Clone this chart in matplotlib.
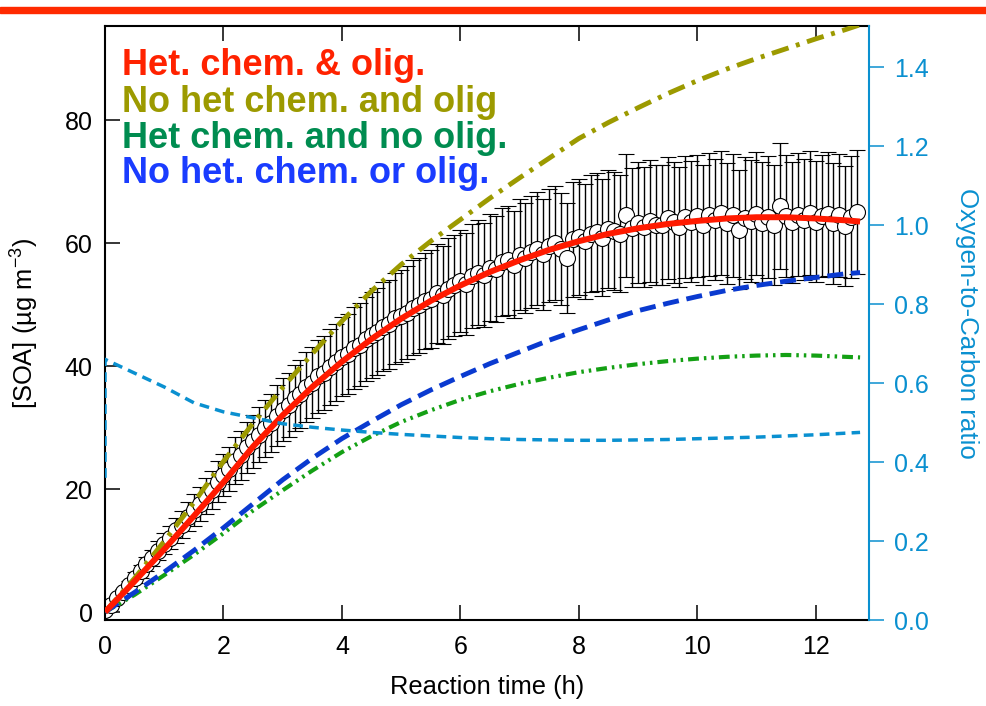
import numpy as np
import matplotlib
matplotlib.use("Agg")
import matplotlib.pyplot as plt
from matplotlib.patches import Rectangle

plt.rcParams['font.family'] = ['Liberation Sans', 'DejaVu Sans']
plt.rcParams['mathtext.fontset'] = 'custom'
plt.rcParams['mathtext.rm'] = 'Liberation Sans'

# observed SOA, one point every 0.1 h
obs_step = 0.1
obs_soa = [
    0.3, 1.2, 2.3, 3.3, 4.4, 5.6, 6.6, 7.8, 8.8, 10.0,
    11.1, 12.1, 13.3, 14.2, 15.5, 16.6, 17.6, 18.9, 19.9, 21.2,
    22.3, 23.3, 24.6, 25.5, 26.8, 27.8, 28.8, 29.9, 30.7, 31.9,
    32.9, 33.7, 34.8, 35.5, 36.6, 37.3, 38.3, 38.9, 39.9, 40.6,
    41.5, 42.0, 43.0, 43.5, 44.4, 45.0, 45.6, 46.4, 46.8, 47.8,
    48.2, 48.7, 49.5, 49.9, 50.6, 50.9, 51.8, 51.5, 52.6, 53.1,
    53.8, 53.4, 54.6, 55.2, 54.8, 56.0, 55.8, 56.9, 57.2, 56.5,
    58.1, 57.6, 58.6, 59.1, 58.2, 59.6, 60.0, 59.0, 57.6, 60.6,
    61.0, 60.3, 61.5, 61.8, 60.9, 62.3, 62.0, 61.5, 64.5, 62.5,
    63.3, 62.6, 63.6, 62.9, 63.0, 64.0, 63.4, 62.6, 64.2, 63.5,
    64.4, 63.0, 64.6, 63.8, 64.9, 63.2, 64.5, 62.2, 64.0, 63.6,
    64.8, 63.3, 64.2, 63.0, 66.0, 64.4, 63.4, 64.6, 63.8, 64.9,
    63.5, 64.4, 64.7, 63.2, 64.5, 62.8, 64.2, 65.0,
]
obs_rel_err = 0.155

# model runs
model_time = [0.0, 0.5, 1.0, 1.5, 2.0, 2.5, 3.0, 3.5, 4.0, 4.5, 5.0, 5.5, 6.0,
              6.5, 7.0, 7.5, 8.0, 8.5, 9.0, 9.5, 10.0, 10.5, 11.0, 11.5,
              12.0, 12.5, 12.75]
het_olig = [0.0, 5.0, 10.2, 15.6, 21.1, 26.9, 32.0, 36.6, 40.7, 44.4, 47.7,
            50.6, 53.1, 55.3, 57.2, 58.9, 60.3, 61.5, 62.4, 63.1, 63.6, 64.0,
            64.2, 64.2, 64.0, 63.7, 63.5]
nohet_olig = [0.0, 5.5, 11.5, 17.8, 24.5, 30.7, 36.5, 42.0, 47.3, 52.2, 56.5,
              60.3, 63.8, 67.3, 70.6, 73.8, 77.0, 79.6, 82.0, 84.3, 86.4,
              88.3, 90.0, 91.6, 93.2, 94.7, 95.5]
het_noolig = [0.0, 2.8, 6.0, 9.3, 12.8, 16.5, 19.8, 23.0, 26.0, 28.6, 30.9,
              32.8, 34.5, 35.9, 37.1, 38.1, 39.0, 39.7, 40.3, 40.8, 41.2,
              41.5, 41.7, 41.8, 41.7, 41.5, 41.4]
nohet_noolig = [0.0, 3.2, 6.5, 10.0, 13.7, 17.6, 21.5, 25.0, 28.2, 31.0, 33.7,
                36.1, 38.3, 40.4, 42.3, 44.2, 45.9, 47.5, 49.0, 50.2, 51.3,
                52.3, 53.1, 53.8, 54.4, 55.0, 55.2]

# O:C ratio (right axis)
oc_time = [0.0] + model_time
oc_ratio = [0.36, 0.66, 0.625, 0.59, 0.55, 0.527, 0.512, 0.497, 0.488, 0.481,
            0.475, 0.47, 0.466, 0.462, 0.459, 0.457, 0.456, 0.455, 0.455,
            0.456, 0.457, 0.459, 0.461, 0.463, 0.466, 0.469, 0.473, 0.475]

legend_labels = ["Het. chem. & olig.", "No het chem. and olig",
                 "Het chem. and no olig.", "No het. chem. or olig."]
legend_colors = ["#ff2200", "#9c9a00", "#008c50", "#1a3cff"]

cyan = "#0a90d0"


def main() -> None:
    fig = plt.figure(figsize=(9.86, 7.06), dpi=100)
    fig.subplots_adjust(left=0.1065, right=0.8813, bottom=0.1218, top=0.9632)
    ax = fig.add_subplot(111)
    ax2 = ax.twinx()

    # red band across the top
    fig.patches.append(Rectangle((0, 1 - 13 / 706), 1, 6 / 706,
                                 transform=fig.transFigure,
                                 color="#ff2a00", zorder=0))

    t_obs = np.arange(len(obs_soa)) * obs_step
    soa = np.array(obs_soa)
    ax.errorbar(t_obs, soa, yerr=soa * obs_rel_err, fmt='o', ms=11.5,
                mfc='white', mec='black', mew=0.8, ecolor='black',
                elinewidth=1.0, capsize=5.5, capthick=1.0, zorder=2)

    ax.plot(model_time, nohet_olig, color="#9c9a00", lw=3.5,
            dashes=(3.6, 1.6, 0.8, 1.6), zorder=3)
    ax.plot(model_time, het_noolig, color="#14a014", lw=3.0,
            dashes=(2.6, 1.2, 0.6, 1.2, 0.6, 1.2), zorder=3)
    ax.plot(model_time, nohet_noolig, color="#0a3ad0", lw=3.5,
            dashes=(3.3, 1.6), zorder=3)
    ax.plot(model_time, het_olig, color="#ff1a00", lw=4.3,
            solid_capstyle='butt', zorder=4)

    ax2.plot(oc_time, oc_ratio, color=cyan, lw=2.5, dashes=(2.8, 1.8))

    ax.set_xlim(0, 12.9)
    ax.set_ylim(-1.3, 95.3)
    ax2.set_ylim(0, 1.504)
    ax.set_xticks(range(0, 13, 2))
    ax.set_yticks(range(0, 81, 20))
    ax2.set_yticks(np.arange(0, 1.41, 0.2))
    ax2.set_yticklabels([f"{v:.1f}" for v in np.arange(0, 1.41, 0.2)])

    for s in ['left', 'bottom', 'top']:
        ax.spines[s].set_linewidth(1.5)
    ax.spines['right'].set_visible(False)
    for s in ['left', 'bottom', 'top']:
        ax2.spines[s].set_visible(False)
    ax2.spines['right'].set_color(cyan)
    ax2.spines['right'].set_linewidth(1.5)

    ax.tick_params(axis='both', direction='in', length=11, width=1.1,
                   labelsize=18, pad=9, top=True)
    ax.tick_params(axis='x', pad=11)
    ax2.tick_params(axis='y', direction='out', length=11, width=1.1,
                    colors=cyan, labelsize=18, pad=7)

    ax.set_xlabel("Reaction time (h)", fontsize=18.4, labelpad=11)
    ax.set_ylabel("[SOA] (µg m$^{-3}$)", fontsize=18.4, labelpad=18)
    ax2.set_ylabel("Oxygen-to-Carbon ratio", fontsize=18.6, color=cyan,
                   rotation=270, labelpad=36)

    baselines = [0.9175, 0.855, 0.795, 0.736]
    for label, color, yb in zip(legend_labels, legend_colors, baselines):
        ax.text(0.022, yb, label, color=color, fontsize=26, fontweight='bold',
                transform=ax.transAxes, va='baseline', ha='left', zorder=6)

    fig.savefig("out.png", dpi=100)
    plt.close(fig)


if __name__ == '__main__':
    main()
